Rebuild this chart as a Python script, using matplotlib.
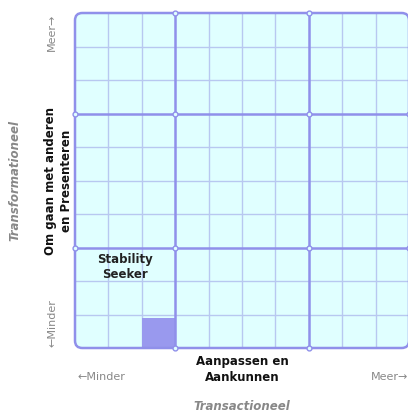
import matplotlib
matplotlib.use("Agg")
import matplotlib.pyplot as plt
from matplotlib.patches import FancyBboxPatch, Rectangle

# --- data ---
grid_cells = 10                     # small cells per side
major_divisions = [3, 7]            # boundaries of the 3x3 big blocks
highlight_col = [2]                 # column index of filled cell
highlight_row = [0]                 # row index of filled cell
highlight_fill = [0.9]              # fraction of cell height filled
quadrant_label = "Stability\nSeeker"
x_label = "Aanpassen en\nAankunnen"
y_label = "Om gaan met anderen\nen Presenteren"
x_title = "Transactioneel"
y_title = "Transformationeel"
low_text = "\u2190Minder"
high_text = "Meer\u2192"

W, H = 408, 414
fig = plt.figure(figsize=(W / 100, H / 100), dpi=100)
fig.patch.set_facecolor("white")
x0, x1, y0, y1 = 75, 409, 14, 349
ax = fig.add_axes([x0 / W, 1 - y1 / H, (x1 - x0) / W, (y1 - y0) / H])
ax.set_xlim(0, grid_cells)
ax.set_ylim(0, grid_cells)
ax.axis("off")

bg = "#e0ffff"
minor_c = "#b8c8f0"
major_c = "#9090ea"
fill_c = "#9999ee"

box = FancyBboxPatch((0, 0), grid_cells, grid_cells,
                     boxstyle="round,pad=0,rounding_size=0.22",
                     facecolor=bg, edgecolor="none", zorder=0, clip_on=False)
ax.add_patch(box)

for i in range(1, grid_cells):
    if i in major_divisions:
        continue
    ax.plot([i, i], [0, grid_cells], color=minor_c, lw=1.0, zorder=1)
    ax.plot([0, grid_cells], [i, i], color=minor_c, lw=1.0, zorder=1)

for c, r, f in zip(highlight_col, highlight_row, highlight_fill):
    ax.add_patch(Rectangle((c, r), 1, f, facecolor=fill_c, edgecolor="none", zorder=2))

for m in major_divisions:
    ax.plot([m, m], [0, grid_cells], color=major_c, lw=1.8, zorder=3, clip_on=False)
    ax.plot([0, grid_cells], [m, m], color=major_c, lw=1.8, zorder=3, clip_on=False)

border = FancyBboxPatch((0, 0), grid_cells, grid_cells,
                        boxstyle="round,pad=0,rounding_size=0.22",
                        facecolor="none", edgecolor=major_c, lw=1.8, zorder=3, clip_on=False)
ax.add_patch(border)

pts = []
for a in major_divisions:
    for b in major_divisions:
        pts.append((a, b))
    for e in (0, grid_cells):
        pts.append((a, e))
        pts.append((e, a))
ax.plot([p[0] for p in pts], [p[1] for p in pts], ls="none", marker="o", ms=3.5,
        mfc=bg, mec=major_c, mew=1.0, zorder=4, clip_on=False)

# texts
ax.text(1.5, 2.88, quadrant_label, ha="center", va="top", fontsize=8.5,
        fontweight="bold", color="#222222", linespacing=1.25, zorder=5)

def px(x, y):
    return (x / W, 1 - y / H)

fig.text(*px(242, 370), x_label, ha="center", va="center", fontsize=8.5,
         fontweight="bold", color="#111111", linespacing=1.3)
fig.text(*px(58.5, 181), y_label, ha="center", va="center", fontsize=8.5,
         fontweight="bold", color="#111111", rotation=90, linespacing=1.3)
fig.text(*px(242, 407), x_title, ha="center", va="center", fontsize=8.5,
         fontweight="bold", style="italic", color="#888888")
fig.text(*px(15, 181), y_title, ha="center", va="center", fontsize=8.5,
         fontweight="bold", style="italic", color="#888888", rotation=90)
fig.text(*px(77, 377), low_text, ha="left", va="center", fontsize=8, color="#888888")
fig.text(*px(408, 377), high_text, ha="right", va="center", fontsize=8, color="#888888")
fig.text(*px(52, 14), high_text, ha="center", va="top", fontsize=8, color="#888888", rotation=90)
fig.text(*px(52, 347), low_text, ha="center", va="bottom", fontsize=8, color="#888888", rotation=90)

fig.savefig("out.png", dpi=100, facecolor="white")
